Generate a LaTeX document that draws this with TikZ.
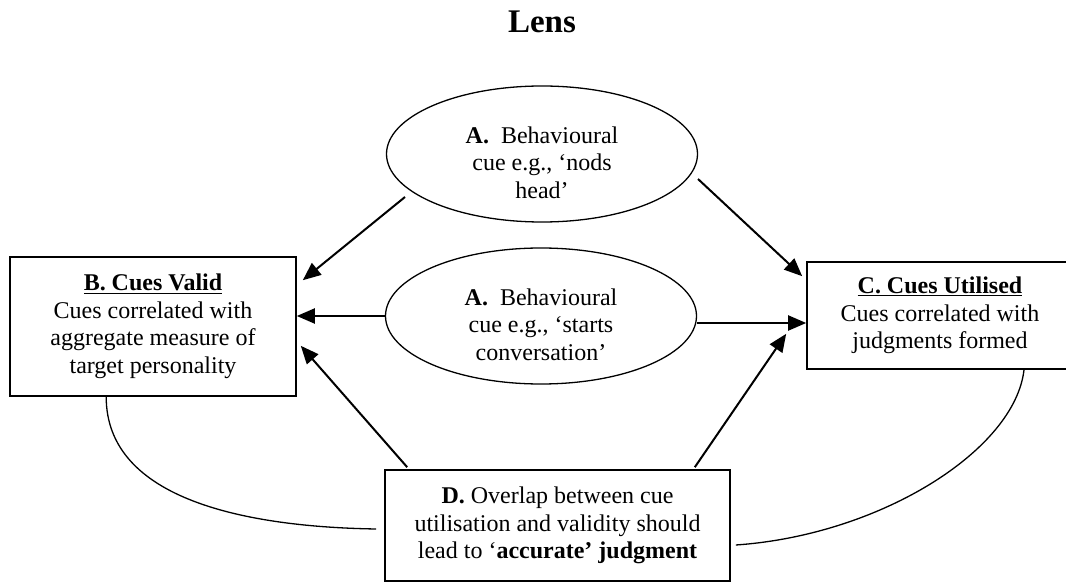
\documentclass[tikz,border=0pt]{standalone}
\usepackage{fontspec}
\setmainfont{Liberation Serif}
\usetikzlibrary{shapes.geometric,arrows.meta,positioning,calc}

\begin{document}
\begin{tikzpicture}[x=1pt,y=-1pt,
    box/.style={draw,line width=1.6pt,align=center,inner sep=0pt,font=\fontsize{24}{27.5}\selectfont},
    cue/.style={draw,ellipse,line width=1.3pt,align=center,inner sep=0pt,minimum width=311pt,minimum height=136pt,font=\fontsize{24}{27.5}\selectfont},
    arr/.style={line width=2pt,-{Triangle[length=18pt,width=15pt]}},
    link/.style={line width=1.3pt}]
    \useasboundingbox (0,0) rectangle (1066,585);
    \clip (0,0) rectangle (1066,585);

    % Title
    \node[anchor=base,font=\fontsize{33}{36}\selectfont\bfseries] (title) at (542,33) {Lens};

    % Behavioural cues
    \node[cue] (cueA) at (542,154) {\rule{0pt}{34pt}\textbf{A.}~~Behavioural\\cue e.g., ‘nods\\head’};
    \node[cue] (cueB) at (541,316) {\rule{0pt}{34pt}\textbf{A.}~~Behavioural\\cue e.g., ‘starts\\conversation’};

    % Validity, utilisation and accuracy
    \node[box,minimum width=286pt,minimum height=139pt] (valid) at (153,326.5)
        {\textbf{\underline{B. Cues Valid}}\\Cues correlated with\\aggregate measure of\\target personality};
    \node[box,minimum width=266pt,minimum height=107pt] (utilised) at (940,315.5)
        {\textbf{\underline{C. Cues Utilised}}\\Cues correlated with\\judgments formed};
    \node[box,minimum width=345pt,minimum height=111pt] (accurate) at (557.5,525.5)
        {\textbf{D.} Overlap between cue\\utilisation and validity should\\lead to ‘\textbf{accurate’ judgment}};

    % Arrows
    \draw[arr] ([shift={(-137,43)}]cueA.center) -- ([shift={(6,24)}]valid.north east);
    \draw[arr] ([shift={(156,25)}]cueA.center) -- ([shift={(-4,15)}]utilised.north west);
    \draw[arr] (cueB.west) -- (cueB.west -| valid.east);
    \draw[arr] ([shift={(0,7)}]cueB.east) -- ([shift={(0,7)}]cueB.east -| utilised.west);
    \draw[arr] ([shift={(23,-2)}]accurate.north west) -- ([shift={(4,-51)}]valid.south east);
    \draw[arr] ([shift={(-36,-2)}]accurate.north east) -- ([shift={(-20,-36)}]utilised.south west);

    % Overlap curves
    \draw[link] ([shift={(97,0)}]valid.south west) .. controls +(0,104) and +(-127,-2) .. ([shift={(-8,3.5)}]accurate.west);
    \draw[link] ([shift={(84,0)}]utilised.south) .. controls +(-9,80) and +(145,-10) .. ([shift={(5,19.5)}]accurate.east);
\end{tikzpicture}
\end{document}
